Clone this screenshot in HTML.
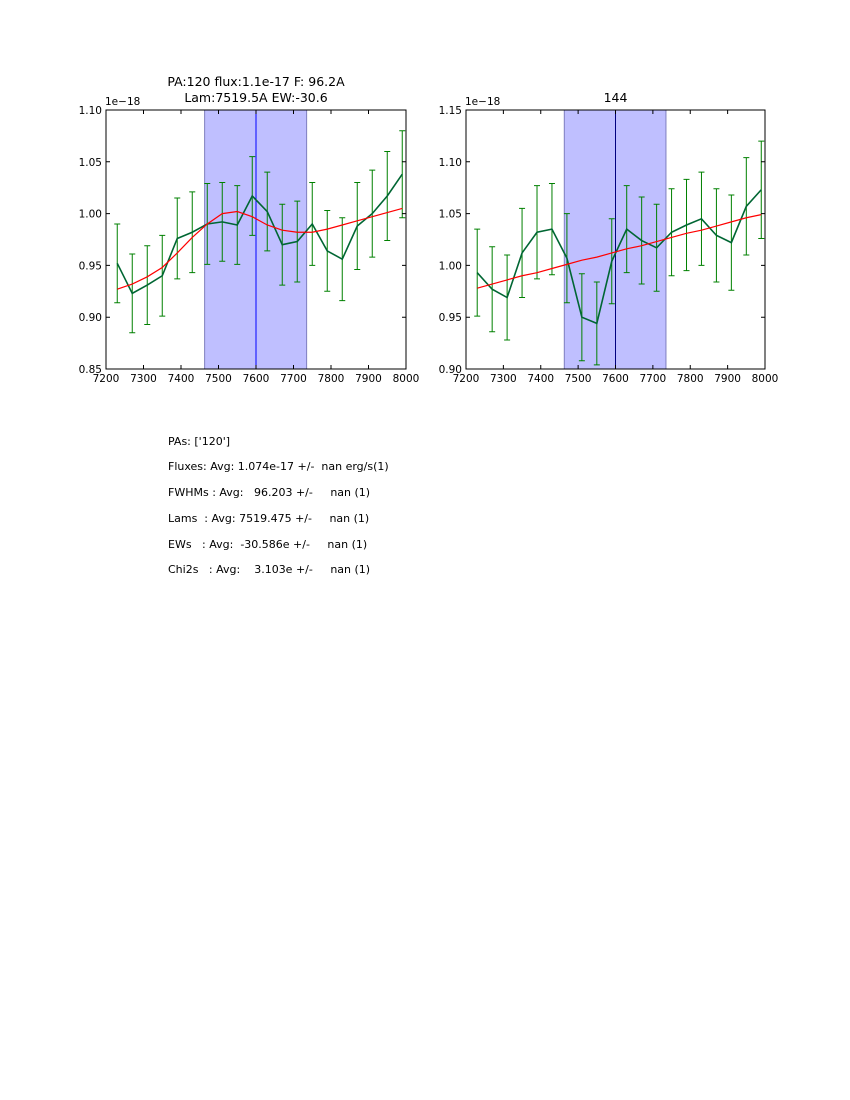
<!DOCTYPE html>
<html><head><meta charset="utf-8"><style>
body{margin:0;background:#fff;width:850px;height:1100px;overflow:hidden;font-family:"DejaVu Sans","Liberation Sans",sans-serif}
svg text{font-family:"DejaVu Sans","Liberation Sans",sans-serif}
.info{position:absolute;left:168px;font-size:11px;white-space:pre;color:#000}
</style></head><body>
<svg id="c" width="850" height="1100" style="position:absolute;left:0;top:0"></svg>
<div class="info" style="top:435px">PAs: ['120']</div>
<div class="info" style="top:460px">Fluxes: Avg: 1.074e-17 +/-  nan erg/s(1)</div>
<div class="info" style="top:486px">FWHMs : Avg:   96.203 +/-     nan (1)</div>
<div class="info" style="top:512px">Lams  : Avg: 7519.475 +/-     nan (1)</div>
<div class="info" style="top:538px">EWs   : Avg:  -30.586e +/-     nan (1)</div>
<div class="info" style="top:563px">Chi2s   : Avg:    3.103e +/-     nan (1)</div>
<script>
const wavelengths=[7230,7270,7310,7350,7390,7430,7470,7510,7550,7590,7630,7670,7710,7750,7790,7830,7870,7910,7950,7990];
const leftFlux=[0.952,0.923,0.931,0.940,0.976,0.982,0.990,0.992,0.989,1.017,1.002,0.970,0.973,0.990,0.964,0.956,0.988,1.000,1.017,1.038];
const leftErr=[0.038,0.038,0.038,0.039,0.039,0.039,0.039,0.038,0.038,0.038,0.038,0.039,0.039,0.040,0.039,0.040,0.042,0.042,0.043,0.042];
const leftModel=[0.927,0.932,0.939,0.948,0.962,0.977,0.990,1.000,1.002,0.997,0.989,0.984,0.982,0.982,0.985,0.989,0.993,0.997,1.001,1.005];
const rightFlux=[0.993,0.977,0.969,1.012,1.032,1.035,1.007,0.950,0.944,1.004,1.035,1.024,1.017,1.032,1.039,1.045,1.029,1.022,1.057,1.073];
const rightErr=[0.042,0.041,0.041,0.043,0.045,0.044,0.043,0.042,0.040,0.041,0.042,0.042,0.042,0.042,0.044,0.045,0.045,0.046,0.047,0.047];
const rightModel=[0.978,0.982,0.986,0.990,0.993,0.997,1.001,1.005,1.008,1.012,1.016,1.019,1.023,1.027,1.031,1.034,1.038,1.042,1.046,1.049];
const xTicks=[7200,7300,7400,7500,7600,7700,7800,7900,8000];
const leftYTicks=[0.85,0.90,0.95,1.00,1.05,1.10];
const rightYTicks=[0.90,0.95,1.00,1.05,1.10,1.15];
const band=[7463,7735];
const lineCenter=7600;
const NS="http://www.w3.org/2000/svg";
const svg=document.getElementById('c');
function mk(tag,attrs,parent){const e=document.createElementNS(NS,tag);for(const k in attrs)e.setAttribute(k,attrs[k]);(parent||svg).appendChild(e);return e;}
function panel(px,py,w,h,ymin,ymax,flux,err,model,yTicks,titleLines,name,lineColor){
  const g=mk('g',{});
  
  
  const X=v=>px+(v-7200)/800*w, Y=v=>py+h-(v-ymin)/(ymax-ymin)*h;
  const r=mk('rect',{x:X(band[0]),y:py,width:X(band[1])-X(band[0]),height:h,fill:'#bfbfff',stroke:'#7f7fbf','stroke-width':1},g);
  
  
  const cl=mk('line',{x1:X(lineCenter),x2:X(lineCenter),y1:py,y2:py+h,stroke:lineColor,'stroke-width':1},g);
  
  
  wavelengths.forEach((wl,i)=>{
    const x=X(wl),y1=Y(flux[i]+err[i]),y2=Y(flux[i]-err[i]);
    const e=mk('path',{d:`M${x},${y1}V${y2}M${x-3},${y1}H${x+3}M${x-3},${y2}H${x+3}`,stroke:'#008000','stroke-width':1,fill:'none'},g);
    
    
  });
  const d=wavelengths.map((wl,i)=>(i?'L':'M')+X(wl)+','+Y(flux[i])).join('');
  const p=mk('path',{d,stroke:'#006633','stroke-width':1.6,fill:'none'},g);
  
  
  const dm=wavelengths.map((wl,i)=>(i?'L':'M')+X(wl)+','+Y(model[i])).join('');
  const m=mk('path',{d:dm,stroke:'#ff0000','stroke-width':1.2,fill:'none'},g);
  
  
  mk('rect',{x:px,y:py,width:w,height:h,fill:'none',stroke:'#000','stroke-width':1},g);
  xTicks.forEach(t=>{const x=X(t);
    mk('path',{d:`M${x},${py+h}v-4M${x},${py}v4`,stroke:'#000'},g);
    const tx=mk('text',{x,y:py+h+13,'font-size':10.5,'text-anchor':'middle'},g);tx.textContent=t;
    
    
  });
  yTicks.forEach(t=>{const y=Y(t);
    mk('path',{d:`M${px},${y}h4M${px+w},${y}h-4`,stroke:'#000'},g);
    const tx=mk('text',{x:px-4,y:y+4,'font-size':10.5,'text-anchor':'end'},g);tx.textContent=t.toFixed(2);
    
    
  });
  const off=mk('text',{x:px-1,y:py-5,'font-size':10.5},g);off.textContent='1e\u221218';
  
  
  titleLines.forEach((t,i)=>{const tt=mk('text',{x:px+w/2,y:py-24+i*16+(titleLines.length==1?16:0),'font-size':12.5,'text-anchor':'middle'},g);tt.textContent=t;
    
    });
}
panel(106,110,300,259,0.85,1.10,leftFlux,leftErr,leftModel,leftYTicks,['PA:120 flux:1.1e-17 F: 96.2A','Lam:7519.5A EW:-30.6'],'left-panel','#0000ff');
panel(466,110,299,259,0.90,1.15,rightFlux,rightErr,rightModel,rightYTicks,['144'],'right-panel','#00007f');
</script>
</body></html>
